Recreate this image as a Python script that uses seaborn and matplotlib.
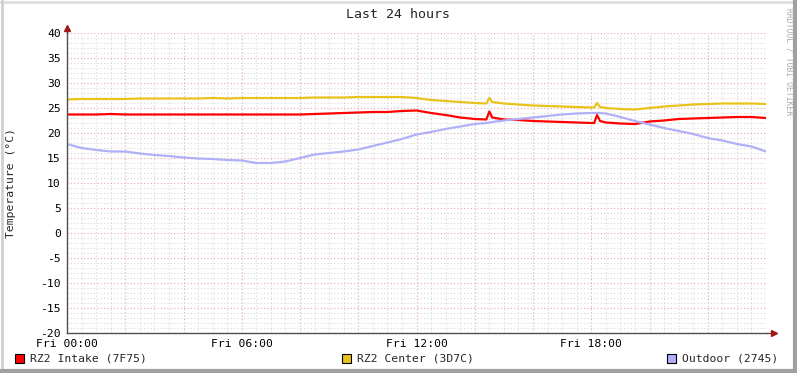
import matplotlib
matplotlib.use("Agg")
import matplotlib.pyplot as plt
import seaborn as sns
import pandas as pd
from matplotlib.ticker import MultipleLocator, FixedLocator
from matplotlib.patches import Rectangle
from matplotlib.lines import Line2D

# ---- data ----
hours = [0, 0.5, 1, 1.5, 2, 2.5, 3, 3.5, 4, 4.5, 5, 5.5, 6, 6.5, 7, 7.5, 8, 8.5,
         9, 9.5, 10, 10.5, 11, 11.5, 12, 12.5, 13, 13.5, 14, 14.4, 14.5, 14.6,
         15, 15.5, 16, 16.5, 17, 17.5, 18, 18.1, 18.2, 18.3, 18.5, 19, 19.5, 20,
         20.5, 21, 21.5, 22, 22.5, 23, 23.5, 24]

intake = [23.7, 23.7, 23.7, 23.8, 23.7, 23.7, 23.7, 23.7, 23.7, 23.7, 23.7, 23.7,
          23.7, 23.7, 23.7, 23.7, 23.7, 23.8, 23.9, 24.0, 24.1, 24.2, 24.2, 24.4,
          24.5, 24.0, 23.6, 23.1, 22.8, 22.7, 24.3, 23.1, 22.7, 22.6, 22.4, 22.3,
          22.2, 22.1, 22.0, 22.0, 23.6, 22.4, 22.1, 21.9, 21.8, 22.3, 22.5, 22.8,
          22.9, 23.0, 23.1, 23.2, 23.2, 23.0]

center = [26.7, 26.8, 26.8, 26.8, 26.8, 26.9, 26.9, 26.9, 26.9, 26.9, 27.0, 26.9,
          27.0, 27.0, 27.0, 27.0, 27.0, 27.1, 27.1, 27.1, 27.2, 27.2, 27.2, 27.2,
          27.0, 26.6, 26.4, 26.2, 26.0, 25.9, 27.0, 26.2, 25.9, 25.7, 25.5, 25.4,
          25.3, 25.2, 25.1, 25.1, 26.0, 25.2, 25.0, 24.8, 24.7, 25.0, 25.3, 25.5,
          25.7, 25.8, 25.9, 25.9, 25.9, 25.8]

outdoor = [17.8, 17.0, 16.6, 16.3, 16.3, 15.9, 15.6, 15.4, 15.1, 14.9, 14.8, 14.6,
           14.5, 14.0, 14.0, 14.3, 15.0, 15.7, 16.0, 16.3, 16.7, 17.4, 18.1, 18.8,
           19.7, 20.2, 20.8, 21.3, 21.8, 22.0, 22.1, 22.2, 22.5, 22.8, 23.1, 23.4,
           23.7, 23.9, 24.0, 24.0, 24.0, 24.0, 23.9, 23.2, 22.4, 21.7, 21.0, 20.4,
           19.8, 19.0, 18.5, 17.8, 17.3, 16.3]

series_names = ["RZ2 Intake (7F75)", "RZ2 Center (3D7C)", "Outdoor (2745)"]
series_colors = ["#FF0000", "#EAC21C", "#B0B0F8"]
x_tick_hours = [0, 6, 12, 18]
x_tick_labels = ["Fri 00:00", "Fri 06:00", "Fri 12:00", "Fri 18:00"]
title = "Last 24 hours"
ylabel = "Temperature (°C)"
watermark = "RRDTOOL / TOBI OETIKER"

df = pd.concat([
    pd.DataFrame({"hour": hours, "temp": vals, "series": name})
    for name, vals in zip(series_names, [intake, center, outdoor])
])

# ---- figure ----
sns.set_theme(style="white")
plt.rcParams["font.family"] = ["DejaVu Sans Mono", "DejaVu Sans"]
plt.rcParams["axes.unicode_minus"] = False
W, H = 797, 373
fig = plt.figure(figsize=(W / 100, H / 100), dpi=100)
fig.patch.set_facecolor("white")

ax = fig.add_axes([67 / W, 1 - 333 / H, (766 - 67) / W, (333 - 33) / H])
ax.set_facecolor("white")

sns.lineplot(data=df, x="hour", y="temp", hue="series", hue_order=series_names,
             palette=series_colors, linewidth=1.6, legend=False, ax=ax,
             estimator=None, sort=False)

ax.set_xlim(0, 24)
ax.set_ylim(-20, 40)

ax.xaxis.set_major_locator(FixedLocator(x_tick_hours))
ax.set_xticklabels(x_tick_labels)
ax.xaxis.set_minor_locator(MultipleLocator(0.5))
ax.yaxis.set_major_locator(MultipleLocator(5))
ax.yaxis.set_minor_locator(MultipleLocator(1))

# grids: minor grey dotted, major pinkish dotted (every 2h on x)
ax.grid(False)
for v in [i * 0.5 for i in range(1, 48)]:
    if abs(v % 2) < 1e-9:
        ax.axvline(v, color="#E8A8A8", lw=0.8, ls=(0, (1, 2)), zorder=0)
    else:
        ax.axvline(v, color="#D8D8D8", lw=0.8, ls=(0, (1, 2)), zorder=0)
for v in range(-19, 41):
    if v % 5 == 0:
        ax.axhline(v, color="#E8A8A8", lw=0.8, ls=(0, (1, 2)), zorder=0)
    else:
        ax.axhline(v, color="#D8D8D8", lw=0.8, ls=(0, (1, 2)), zorder=0)

for s in ["top", "right"]:
    ax.spines[s].set_visible(False)
for s in ["left", "bottom"]:
    ax.spines[s].set_color("#505050")
    ax.spines[s].set_linewidth(1.0)
    ax.spines[s].set_zorder(5)

ax.tick_params(axis="both", which="major", direction="inout", length=5,
               width=0.8, color="#505050", labelsize=8.2, labelcolor="black", pad=2)
ax.tick_params(axis="both", which="minor", direction="inout", length=3,
               width=0.6, color="#505050")
ax.set_xlabel("")
ax.set_ylabel("")
fig.text(11 / W, 1 - 183 / H, ylabel, rotation=90, ha="center", va="center",
         fontsize=8.2)

# axis arrows
ax.plot([1.0, 1.012], [0, 0], transform=ax.transAxes, color="#505050", lw=1.0,
        clip_on=False, zorder=6)
ax.plot([1.011], [0], transform=ax.transAxes, marker=">", color="#A01818",
        markersize=4, clip_on=False, zorder=7)
ax.plot([0, 0], [1.0, 1.018], transform=ax.transAxes, color="#505050", lw=1.0,
        clip_on=False, zorder=6)
ax.plot([0], [1.018], transform=ax.transAxes, marker="^", color="#A01818",
        markersize=4, clip_on=False, zorder=7)

# title and watermark
fig.text(398 / W, 1 - 14 / H, title, ha="center", va="center", fontsize=9.5)
fig.text(789 / W, 1 - 62 / H, watermark, ha="center", va="center", rotation=270,
         fontsize=5.8, color="#AAAAAA")

# legend
leg_items = [(15, 30), (342, 357), (667, 682)]
for (sx, tx), name, col in zip(leg_items, series_names, series_colors):
    fig.patches.append(Rectangle((sx / W, 1 - 363 / H), 9 / W, 9 / H,
                                 transform=fig.transFigure, facecolor=col,
                                 edgecolor="black", lw=0.8))
    fig.text(tx / W, 1 - 358.5 / H, name, ha="left", va="center", fontsize=8.2)

# frame (3d border)
fig.add_artist(Line2D([0, 1], [1 - 1.5 / H, 1 - 1.5 / H], transform=fig.transFigure,
                      color="#E0E0E0", lw=2))
fig.add_artist(Line2D([1.5 / W, 1.5 / W], [0, 1], transform=fig.transFigure,
                      color="#D0D0D0", lw=2))
fig.add_artist(Line2D([0, 1], [2 / H, 2 / H], transform=fig.transFigure,
                      color="#A0A0A0", lw=3))
fig.add_artist(Line2D([1 - 2 / W, 1 - 2 / W], [0, 1], transform=fig.transFigure,
                      color="#A0A0A0", lw=3))

fig.savefig("out.png", dpi=100, facecolor=fig.get_facecolor())
